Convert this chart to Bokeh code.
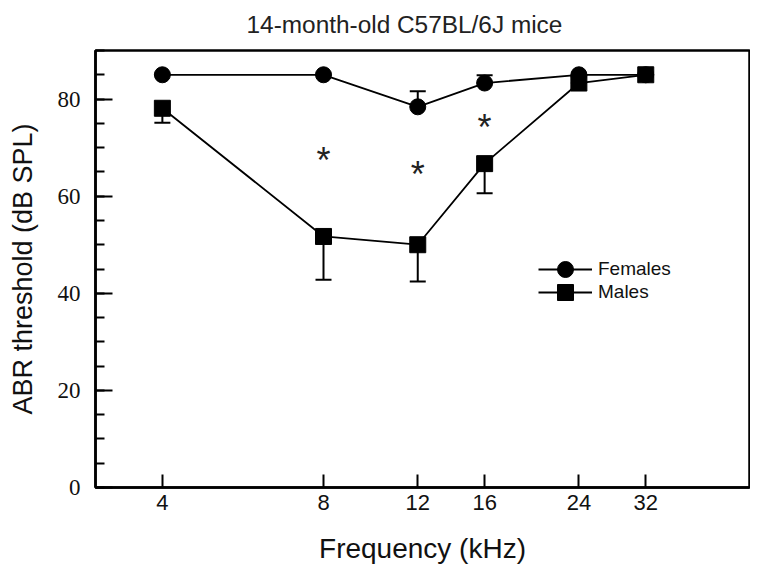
from bokeh.plotting import figure
from bokeh.models import (Range1d, FixedTicker, SingleIntervalTicker, Whisker, TeeHead,
                          ColumnDataSource, Legend, LegendItem)
from bokeh.core.properties import value
from bokeh.embed import file_html
from bokeh.resources import INLINE

# ---- data ----
freq_khz = [4, 8, 12, 16, 24, 32]
x_tick_labels = ["4", "8", "12", "16", "24", "32"]
females_mean = [85, 85, 78.4, 83.3, 85, 85]
females_err = [0, 0, 3.2, 1.6, 0, 0]
males_mean = [78.1, 51.7, 50.0, 66.7, 83.3, 85]
males_err = [3.0, 8.9, 7.6, 6.1, 0, 0]
star_freq = [8, 12, 16]
star_y = [68.8, 65.9, 75.6]

f_up = [m + e for m, e in zip(females_mean, females_err)]
m_low = [m - e for m, e in zip(males_mean, males_err)]

src_f = ColumnDataSource(dict(x=freq_khz, y=females_mean, up=f_up))
src_m = ColumnDataSource(dict(x=freq_khz, y=males_mean, low=m_low))

p = figure(width=750, height=567, x_axis_type="log",
           x_range=Range1d(3, 50), y_range=Range1d(0, 90),
           output_backend="svg", toolbar_location=None,
           min_border_left=95, min_border_right=1, min_border_top=50, min_border_bottom=80,
           title="14-month-old C57BL/6J mice")

p.background_fill_color = "white"
p.border_fill_color = "white"
p.outline_line_color = "black"
p.outline_line_width = 2.5
p.xgrid.visible = False
p.ygrid.visible = False

p.title.text_font = "Liberation Sans"
p.title.text_font_size = "24.4px"
p.title.text_font_style = "normal"
p.title.text_color = "#222222"
p.title.align = "left"
p.title.offset = 151
p.title.vertical_align = "top"
p.title.standoff = 21

# x axis
xa = p.xaxis[0]
xa.ticker = FixedTicker(ticks=freq_khz, minor_ticks=[])
xa.major_label_overrides = {f: lab for f, lab in zip(freq_khz, x_tick_labels)}
xa.axis_label = "Frequency (kHz)"
xa.axis_label_text_font = "Liberation Sans"
xa.axis_label_text_font_size = "28px"
xa.axis_label_text_font_style = "normal"
xa.axis_label_text_color = "#111111"
xa.axis_label_standoff = 20
xa.major_label_text_font = "Liberation Sans"
xa.major_label_text_font_size = "22px"
xa.major_label_text_color = "#111111"
xa.major_label_standoff = 7
xa.major_tick_in = 13
xa.major_tick_out = 0
xa.minor_tick_in = 0
xa.minor_tick_out = 0
xa.axis_line_width = 2.5
xa.major_tick_line_width = 2

# y axis
ya = p.yaxis[0]
ya.ticker = SingleIntervalTicker(interval=20, num_minor_ticks=4)
ya.axis_label = "ABR threshold (dB SPL)"
ya.axis_label_text_font = "Liberation Sans"
ya.axis_label_text_font_size = "27px"
ya.axis_label_text_font_style = "normal"
ya.axis_label_text_color = "#111111"
ya.axis_label_standoff = 17
ya.major_label_text_font = "Liberation Serif"
ya.major_label_text_font_size = "23px"
ya.major_label_text_color = "#111111"
ya.major_label_standoff = 15
ya.major_tick_in = 17
ya.major_tick_out = 0
ya.minor_tick_in = 9
ya.minor_tick_out = 0
ya.axis_line_width = 2.5
ya.major_tick_line_width = 2
ya.minor_tick_line_width = 2

# lines
lf = p.line("x", "y", source=src_f, line_color="black", line_width=1.8)
lm = p.line("x", "y", source=src_m, line_color="black", line_width=1.8)

# error bars (one-sided)
wf = Whisker(source=src_f, base="x", lower="y", upper="up", dimension="height",
             line_color="black", line_width=2,
             upper_head=TeeHead(size=16, line_color="black", line_width=2), lower_head=None)
wm = Whisker(source=src_m, base="x", lower="low", upper="y", dimension="height",
             line_color="black", line_width=2,
             lower_head=TeeHead(size=16, line_color="black", line_width=2), upper_head=None)
p.add_layout(wf)
p.add_layout(wm)

sf = p.scatter("x", "y", source=src_f, marker="circle", size=16,
               fill_color="black", line_color="black")
sm = p.scatter("x", "y", source=src_m, marker="square", size=16,
               fill_color="black", line_color="black")

# significance asterisks
p.text(x=star_freq, y=star_y, text=["*"] * len(star_freq),
       text_font=value("Liberation Sans"), text_font_size="36px",
       text_align="center", text_baseline="middle", text_color="#222222",
       y_offset=7)

legend_style = dict(glyph_width=54, glyph_height=40, spacing=0,
                    padding=0, margin=0, label_standoff=6,
                    label_text_font="Liberation Sans", label_text_font_size="19px",
                    label_text_color="#111111",
                    border_line_alpha=0, background_fill_alpha=0)
legend_f = Legend(items=[LegendItem(label="Females", renderers=[lf, sf])],
                  location=(443, 198), **legend_style)
legend_m = Legend(items=[LegendItem(label="Males", renderers=[lm, sm])],
                  location=(443, 175), **legend_style)
p.add_layout(legend_f)
p.add_layout(legend_m)

open("out.html", "w").write(file_html(p, INLINE))
